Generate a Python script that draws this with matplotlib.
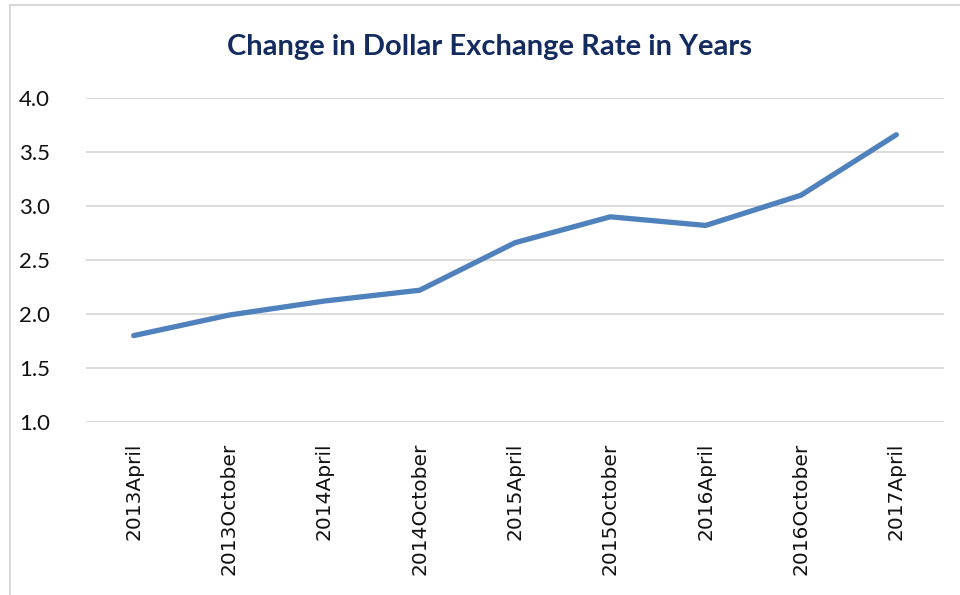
import matplotlib.pyplot as plt
from matplotlib.patches import Rectangle

# data
periods = ['2013April', '2013October', '2014April', '2014October', '2015April',
           '2015October', '2016April', '2016October', '2017April']
rates = [1.80, 1.99, 2.12, 2.22, 2.66, 2.90, 2.82, 3.10, 3.66]
yticks = [1.0, 1.5, 2.0, 2.5, 3.0, 3.5, 4.0]

fig = plt.figure(figsize=(9.6, 5.95), dpi=100)
ax = fig.add_axes([86/960, 1 - 422/595, (944 - 86)/960, (422 - 98)/595])

x = list(range(len(periods)))
ax.plot(x, rates, color='#4f81bd', lw=3.8, solid_capstyle='round', solid_joinstyle='round', zorder=3)

ax.set_xlim(-0.5, len(periods) - 0.5)
ax.set_ylim(1.0, 4.0)
ax.set_yticks(yticks)
ax.set_yticklabels([f'{v:.1f}' for v in yticks], fontfamily='Lato', fontsize=16, color='#111111')
ax.set_xticks(x)
ax.set_xticklabels(periods, rotation=90, fontfamily='DejaVu Sans', fontsize=14.5, color='#111111')
ax.tick_params(axis='both', length=0)
ax.tick_params(axis='y', pad=26)
ax.tick_params(axis='x', pad=15)
ax.grid(axis='y', color='#d9d9d9', lw=1.3)
for s in ax.spines.values():
    s.set_visible(False)

fig.text(0.5 * (228 + 752) / 960, 1 - 47/595, 'Change in Dollar Exchange Rate in Years',
         ha='center', va='center', fontfamily='Lato', fontweight='bold', fontsize=21, color='#132b5f')

# chart area border (cut off at right and bottom)
fig.patches.append(Rectangle((10/960, -0.1), 1.2, 1 - 5/595 + 0.1, transform=fig.transFigure,
                             fill=False, edgecolor='#d9d9d9', lw=1.5))

fig.savefig('out.png', dpi=100)
